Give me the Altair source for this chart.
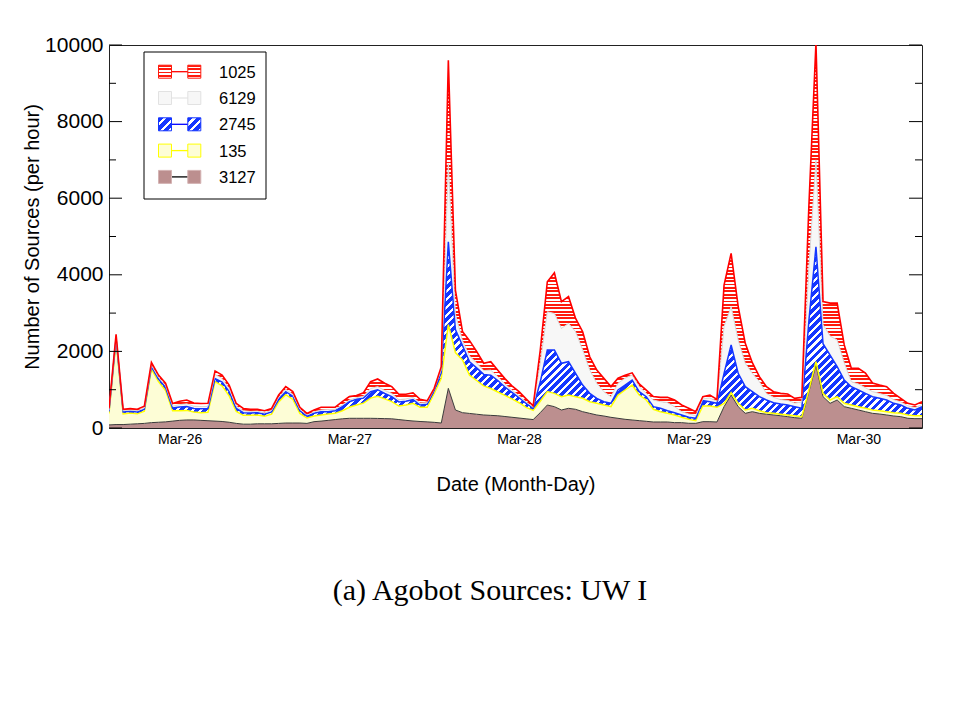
import math
import altair as alt
import pandas as pd

# ---------------- data (hours relative to Mar-26 00:00) ----------------
hours = list(range(-10, 106))
day_ticks = [0, 24, 48, 72, 96]
day_labels = ["Mar-26", "Mar-27", "Mar-28", "Mar-29", "Mar-30"]
y_major = [0, 2000, 4000, 6000, 8000, 10000]
y_minor = [1000, 3000, 5000, 7000, 9000]
legend_names = ["1025", "6129", "2745", "135", "3127"]

s3127 = [80, 90, 90, 100, 110, 120, 140, 150, 160, 180, 200, 210, 210, 200, 190, 180, 170, 150, 120, 100,
         100, 110, 110, 110, 120, 130, 130, 130, 120,
         165, 180, 200, 220, 240, 253, 253, 253, 253, 250, 245, 240, 220, 200, 183, 170, 160, 148,
         130, 1035, 470, 400,
         380, 360, 340, 330, 320, 300, 280, 260, 240, 220,
         400,
         600, 557, 470, 514, 488, 426, 383, 340, 313,
         279, 253, 227, 209, 192, 175, 157, 157, 157, 140, 140, 123, 122, 165, 165, 157,
         557, 861, 557, 383, 426, 383, 360, 340, 320, 296, 270, 253,
         950, 1644, 818, 644, 731, 557, 514, 470, 426, 383, 365, 340, 313, 296, 253, 244, 244]
s135 = [300, 2200, 280, 290, 260, 320, 1400, 1060, 820, 270, 250, 250, 210, 200, 220, 1030, 930, 690, 310, 230,
        230, 230, 200, 250, 560, 740, 620, 250, 140,
        148, 160, 166, 163, 212, 287, 347, 397, 527, 580, 515, 450, 354, 400, 461, 370, 380, 752,
        1170, 1665, 1500, 1375,
        1000, 880, 760, 700, 620, 550, 480, 400, 300, 240,
        300,
        350, 348, 348, 347, 330, 349, 304, 304, 287,
        278, 608, 765, 913, 669, 556, 331, 269, 226, 200, 139, 104, 70, 409, 409, 383,
        87, 60, 87, 87, 88, 69, 40, 43, 40, 44, 50, 43,
        50, 87, 87, 87, 87, 87, 86, 87, 88, 87, 87, 86, 87, 87, 87, 78, 78]
s2745 = [50, 50, 50, 50, 50, 50, 60, 70, 80, 70, 100, 100, 90, 100, 100, 80, 100, 110, 80, 70,
         60, 60, 50, 60, 70, 80, 80, 70, 50,
         70, 86, 60, 69, 105, 147, 148, 130, 170, 170, 140, 130, 106, 100, 96, 60, 80, 80,
         150, 2160, 600, 380,
         350, 330, 300, 350, 300, 220, 170, 130, 100, 60,
         500,
         1086, 1131, 872, 870, 609, 347, 218, 131, 87,
         87, 131, 130, 131, 87, 87, 69, 88, 69, 60, 61, 52, 61, 139, 113, 104,
         783, 1245, 783, 609, 434, 366, 331, 278, 266, 260, 237, 218,
         1800, 2999, 1295, 1169, 782, 609, 479, 435, 391, 348, 323, 305, 244, 217, 174, 148, 235]
s6129 = [30, 40, 30, 30, 30, 30, 40, 40, 50, 50, 60, 70, 60, 60, 55, 110, 90, 80, 60, 50,
         40, 40, 40, 40, 50, 60, 50, 40, 30,
         37, 44, 54, 38, 43, 43, 42, 50, 80, 80, 80, 80, 60, 60, 60, 50, 40, 30,
         70, 2040, 400, 120,
         150, 130, 100, 130, 100, 80, 60, 50, 40, 20,
         500,
         999, 954, 910, 999, 1088, 914, 609, 391, 261,
         174, 174, 178, 130, 131, 87, 174, 173, 209, 157, 86, 86, 69, 47, 93, 56,
         1218, 1000, 870, 611, 479, 392, 169, 139, 114, 120, 93, 166,
         1400, 2270, 500, 500, 700, 447, 131, 158, 145, 132, 125, 119, 96, 80, 66, 60, 53]
s1025 = [50, 65, 40, 40, 40, 50, 70, 60, 60, 70, 90, 100, 80, 80, 80, 90, 90, 90, 70, 60,
         60, 50, 50, 50, 60, 70, 70, 50, 40,
         50, 70, 60, 55, 90, 90, 60, 90, 180, 200, 190, 180, 140, 120, 120, 100, 50, 25,
         80, 2700, 630, 245,
         400, 300, 190, 220, 170, 140, 110, 110, 80, 40,
         330,
         785, 1060, 700, 700, 345, 479, 346, 348, 352,
         262, 134, 80, 57, 71, 85, 89, 113, 139, 173, 174, 149, 104, 58, 81, 48,
         1085, 1394, 873, 520, 278, 130, 179, 148, 165, 167, 125, 120,
         1600, 3050, 600, 860, 960, 470, 350, 410, 385, 225, 222, 229, 165, 95, 64, 70, 77]

df = pd.DataFrame({"hour": hours, "s3127": s3127, "s135": s135, "s2745": s2745,
                   "s6129": s6129, "s1025": s1025})

# ---------------- layout / style ----------------
W, H = 813, 383
YMAX = 10000
RED, BLUE, YEL, GRAY_LINE, BROWN = "#ff1a0d", "#1436ff", "#ffff00", "#d8d8d8", "#bc8f8f"
YEL_FILL, GRAY_FILL = "#fdfdd6", "#f7f7f7"


def stripe_stops(c_on, c_off, n, duty):
    stops = []
    for i in range(n):
        a, b, c = i / n, (i + duty) / n, (i + 1) / n
        stops += [{"offset": round(a, 6), "color": c_on}, {"offset": round(b, 6), "color": c_on},
                  {"offset": round(b, 6), "color": c_off}, {"offset": round(c, 6), "color": c_off}]
    return stops


# bounding boxes of the striped layers (for gradient geometry)
T1 = s3127
T2 = [a + b for a, b in zip(T1, s135)]
T3 = [a + b for a, b in zip(T2, s2745)]
T4 = [a + b for a, b in zip(T3, s6129)]
T5 = [a + b for a, b in zip(T4, s1025)]
py = lambda v: H * (1 - v / YMAX)
red_h = py(min(T4)) - py(max(T5))
n_red = max(1, round(red_h / 3.4))
red_grad = {"gradient": "linear", "x1": 0, "y1": 0, "x2": 0, "y2": 1,
            "stops": stripe_stops(RED, "#ffffff", n_red, 0.55)}

hb = py(min(T2)) - py(max(T3))
r = hb / W
k = (1 + r) / (1 + r * r)
L = (W + hb) / math.sqrt(2)
n_blue = max(1, round(L / 5.6))
blue_grad = {"gradient": "linear", "x1": 0, "y1": 0, "x2": k, "y2": k * r,
             "stops": stripe_stops(BLUE, "#ffffff", n_blue, 0.6)}

label_expr = "[" + ",".join("'%s'" % s for s in day_labels) + "][datum.value/24]"
X = alt.X("hour:Q", scale=alt.Scale(domain=[-10, 105], nice=False, zero=False),
          axis=alt.Axis(values=day_ticks, labelExpr=label_expr, ticks=False, domain=False, grid=False,
                        labelFontSize=14, labelPadding=4, labelFlush=False, labelColor="black",
                        title="Date (Month-Day)", titleFontSize=20, titleFontWeight="normal",
                        titlePadding=28, titleColor="black"))
yscale = alt.Scale(domain=[0, YMAX], nice=False)
yaxis = alt.Axis(values=y_major, format="d", ticks=False, domain=False, grid=False, labelFontSize=21,
                 labelPadding=6, labelColor="black", title="Number of Sources (per hour)",
                 titleFontSize=20, titleFontWeight="normal", titlePadding=2, titleColor="black")


def Y(f):
    return alt.Y(f, scale=yscale, axis=yaxis)


base = alt.Chart(df).transform_calculate(
    t1="datum.s3127",
    t2="datum.s3127 + datum.s135",
    t3="datum.s3127 + datum.s135 + datum.s2745",
    t4="datum.s3127 + datum.s135 + datum.s2745 + datum.s6129",
    t5="datum.s3127 + datum.s135 + datum.s2745 + datum.s6129 + datum.s1025",
)

a_brown = base.mark_area(fill=BROWN, clip=True).encode(x=X, y=Y("t1:Q"))
a_yel = base.mark_area(fill=YEL_FILL, clip=True).encode(x=X, y=Y("t2:Q"), y2="t1:Q")
a_blue = base.mark_area(fill=blue_grad, clip=True).encode(x=X, y=Y("t3:Q"), y2="t2:Q")
a_gray = base.mark_area(fill=GRAY_FILL, clip=True).encode(x=X, y=Y("t4:Q"), y2="t3:Q")
a_red = base.mark_area(fill=red_grad, clip=True).encode(x=X, y=Y("t5:Q"), y2="t4:Q")

l_brown = base.mark_line(color="#3a3a3a", strokeWidth=1, clip=True).encode(x=X, y=Y("t1:Q"))
l_yel = base.mark_line(color=YEL, strokeWidth=1.5, clip=True).encode(x=X, y=Y("t2:Q"))
l_blue = base.mark_line(color=BLUE, strokeWidth=1.5, clip=True).encode(x=X, y=Y("t3:Q"))
l_gray = base.mark_line(color=GRAY_LINE, strokeWidth=1, clip=True).encode(x=X, y=Y("t4:Q"))
l_red = base.mark_line(color="#ff0000", strokeWidth=1.6, clip=True).encode(x=X, y=Y("t5:Q"))

# inward ticks on the frame
maj = pd.DataFrame({"v": y_major})
mnr = pd.DataFrame({"v": y_minor})
ticks = [
    alt.Chart(maj).mark_rule(color="black", strokeWidth=1).encode(y=Y("v:Q"), x=alt.value(0), x2=alt.value(13)),
    alt.Chart(mnr).mark_rule(color="black", strokeWidth=1).encode(y=Y("v:Q"), x=alt.value(0), x2=alt.value(7)),
    alt.Chart(maj).mark_rule(color="black", strokeWidth=1).encode(y=Y("v:Q"), x=alt.value(W - 13), x2=alt.value(W)),
    alt.Chart(mnr).mark_rule(color="black", strokeWidth=1).encode(y=Y("v:Q"), x=alt.value(W - 7), x2=alt.value(W)),
]

# ---------------- legend (manual, to mimic gnuplot keys) ----------------
one = pd.DataFrame({"k": [0]})
leg = [alt.Chart(one).mark_rect(fill="white", stroke="black", strokeWidth=1).encode(
    x=alt.value(35), x2=alt.value(157), y=alt.value(7), y2=alt.value(154))]

sq_red = {"gradient": "linear", "x1": 0, "y1": 0, "x2": 0, "y2": 1,
          "stops": stripe_stops(RED, "#ffffff", 4, 0.55)}
sq_blue = {"gradient": "linear", "x1": 0, "y1": 0, "x2": 1, "y2": 1,
           "stops": stripe_stops(BLUE, "#ffffff", 3, 0.6)}
key_fill = {"1025": sq_red, "6129": GRAY_FILL, "2745": sq_blue, "135": YEL_FILL, "3127": BROWN}
key_stroke = {"1025": RED, "6129": "#e2e2e2", "2745": BLUE, "135": YEL, "3127": "#d4b3b3"}
key_line = {"1025": "#ff0000", "6129": "#e6e6e6", "2745": "#0000ff", "135": YEL, "3127": "black"}

for i, name in enumerate(legend_names):
    cy = 26.7 + 26.3 * i
    leg.append(alt.Chart(one).mark_rule(color=key_line[name], strokeWidth=1.3).encode(
        x=alt.value(62), x2=alt.value(79), y=alt.value(cy)))
    for cx in (56, 85.3):
        leg.append(alt.Chart(one).mark_rect(fill=key_fill[name], stroke=key_stroke[name], strokeWidth=1).encode(
            x=alt.value(cx - 6.5), x2=alt.value(cx + 6.5), y=alt.value(cy - 6.5), y2=alt.value(cy + 6.5)))
    leg.append(alt.Chart(one).mark_text(align="left", baseline="middle", fontSize=16.5, color="black").encode(
        x=alt.value(110), y=alt.value(cy + 1), text=alt.value(name)))

caption = alt.Chart(one).mark_text(font="Liberation Serif", fontSize=30, align="center",
                                   baseline="alphabetic", color="black").encode(
    x=alt.value(381), y=alt.value(555), text=alt.value("(a) Agobot Sources: UW I"))

chart = alt.layer(
    a_brown, a_yel, a_blue, a_gray, a_red,
    l_brown, l_yel, l_blue, l_gray, l_red,
    *ticks, *leg, caption
).properties(
    width=W, height=H,
    autosize=alt.AutoSizeParams(type="none"),
    padding={"left": 101, "top": 37, "right": 30, "bottom": 270},
).configure(font="Liberation Sans").configure_view(stroke="#222", strokeWidth=1)

chart.save("out.html", embed_options={"renderer": "svg", "actions": False})
